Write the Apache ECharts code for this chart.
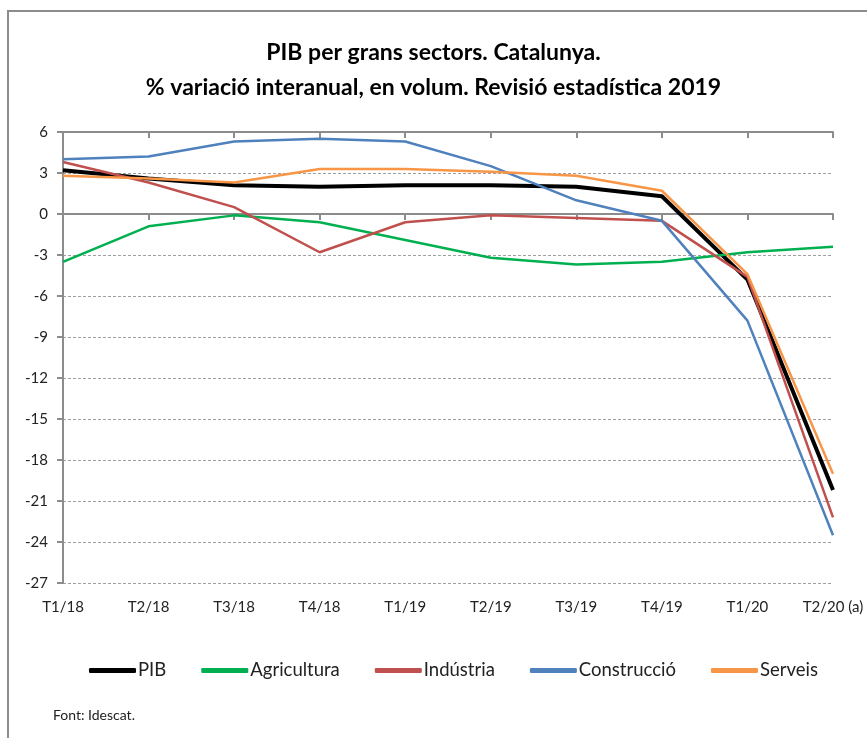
<!DOCTYPE html>
<html>
<head>
<meta charset="utf-8">
<script src="https://cdn.jsdelivr.net/npm/echarts@6/dist/echarts.min.js"></script>
<style>
  html, body { margin: 0; padding: 0; background: #fff; }
  #chart { width: 867px; height: 738px; }
</style>
</head>
<body>
<div id="chart"></div>
<script>
const categories = ['T1/18', 'T2/18', 'T3/18', 'T4/18', 'T1/19', 'T2/19', 'T3/19', 'T4/19', 'T1/20', 'T2/20 (a)'];

const pib          = [3.2, 2.6, 2.1, 2.0, 2.1, 2.1, 2.0, 1.3, -4.8, -20.2];
const agricultura  = [-3.5, -0.9, -0.1, -0.6, -1.9, -3.2, -3.7, -3.5, -2.8, -2.4];
const industria    = [3.8, 2.3, 0.5, -2.8, -0.6, -0.1, -0.3, -0.5, -4.6, -22.2];
const construccio  = [4.0, 4.2, 5.3, 5.5, 5.3, 3.5, 1.0, -0.5, -7.8, -23.5];
const serveis      = [2.8, 2.6, 2.3, 3.3, 3.3, 3.1, 2.8, 1.7, -4.4, -19.0];

const font = 'Lato, "Open Sans", sans-serif';

const chart = echarts.init(document.getElementById('chart'));

function line(name, data, color, width) {
    return {
        name: name,
        type: 'line',
        data: data,
        symbol: 'none',
        xAxisIndex: 0,
        lineStyle: { color: color, width: width },
        itemStyle: { color: color }
    };
}

chart.setOption({
    animation: false,
    textStyle: { fontFamily: font },
    title: {
        text: 'PIB per grans sectors. Catalunya.\n% variació interanual, en volum. Revisió estadística 2019',
        left: 'center',
        top: 30,
        textStyle: { fontFamily: font, fontSize: 23, fontWeight: 'bold', color: '#000', lineHeight: 35 }
    },
    graphic: [
        {
            type: 'rect',
            shape: { x: 8, y: 11, width: 900, height: 800 },
            style: { fill: 'none', stroke: '#8c8c8c', lineWidth: 2 }
        },
        {
            type: 'text',
            left: 53,
            top: 708,
            style: { text: 'Font: Idescat.', fontFamily: font, fontSize: 14, fill: '#222' }
        }
    ],
    legend: {
        top: 656,
        left: 84,
        icon: 'roundRect',
        itemWidth: 47,
        itemHeight: 5,
        itemGap: 35,
        textStyle: { fontFamily: font, fontSize: 18.5, color: '#222', padding: [0, 0, 0, -3] },
        data: ['PIB', 'Agricultura', 'Indústria', 'Construcció', 'Serveis']
    },
    grid: { left: 63, right: 34, top: 132, bottom: 155 },
    xAxis: [
        {
            type: 'category',
            data: categories,
            boundaryGap: false,
            axisLine: { onZero: true, lineStyle: { color: '#8c8c8c', width: 2 } },
            axisTick: { show: true, length: 6, inside: false, lineStyle: { color: '#8c8c8c', width: 2 } },
            axisLabel: { show: false },
            splitLine: { show: false }
        },
        {
            type: 'category',
            data: categories,
            boundaryGap: false,
            axisLine: { onZero: true, lineStyle: { color: '#8c8c8c', width: 2 } },
            axisTick: { show: true, length: 6, inside: true, lineStyle: { color: '#8c8c8c', width: 2 } },
            axisLabel: { show: false },
            splitLine: { show: false }
        },
        {
            type: 'category',
            data: categories,
            boundaryGap: false,
            position: 'bottom',
            axisLine: { show: false, onZero: false },
            axisTick: { show: false },
            axisLabel: { fontFamily: font, fontSize: 15, color: '#222', margin: 17 },
            splitLine: { show: false }
        }
    ],
    yAxis: {
        type: 'value',
        min: -27,
        max: 6,
        interval: 3,
        axisLine: { show: true, lineStyle: { color: '#8c8c8c', width: 2 } },
        axisTick: { show: true, length: 6, lineStyle: { color: '#8c8c8c', width: 2 } },
        axisLabel: { fontFamily: font, fontSize: 15, color: '#222', margin: 15 },
        splitLine: { lineStyle: { color: '#a0a0a0', type: [3, 2], width: 1 } }
    },
    series: [
        line('PIB', pib, '#000000', 4),
        line('Agricultura', agricultura, '#00b050', 2.5),
        line('Indústria', industria, '#c0504d', 2.5),
        line('Construcció', construccio, '#4f81bd', 2.5),
        line('Serveis', serveis, '#f79646', 2.5)
    ]
});
</script>
</body>
</html>
